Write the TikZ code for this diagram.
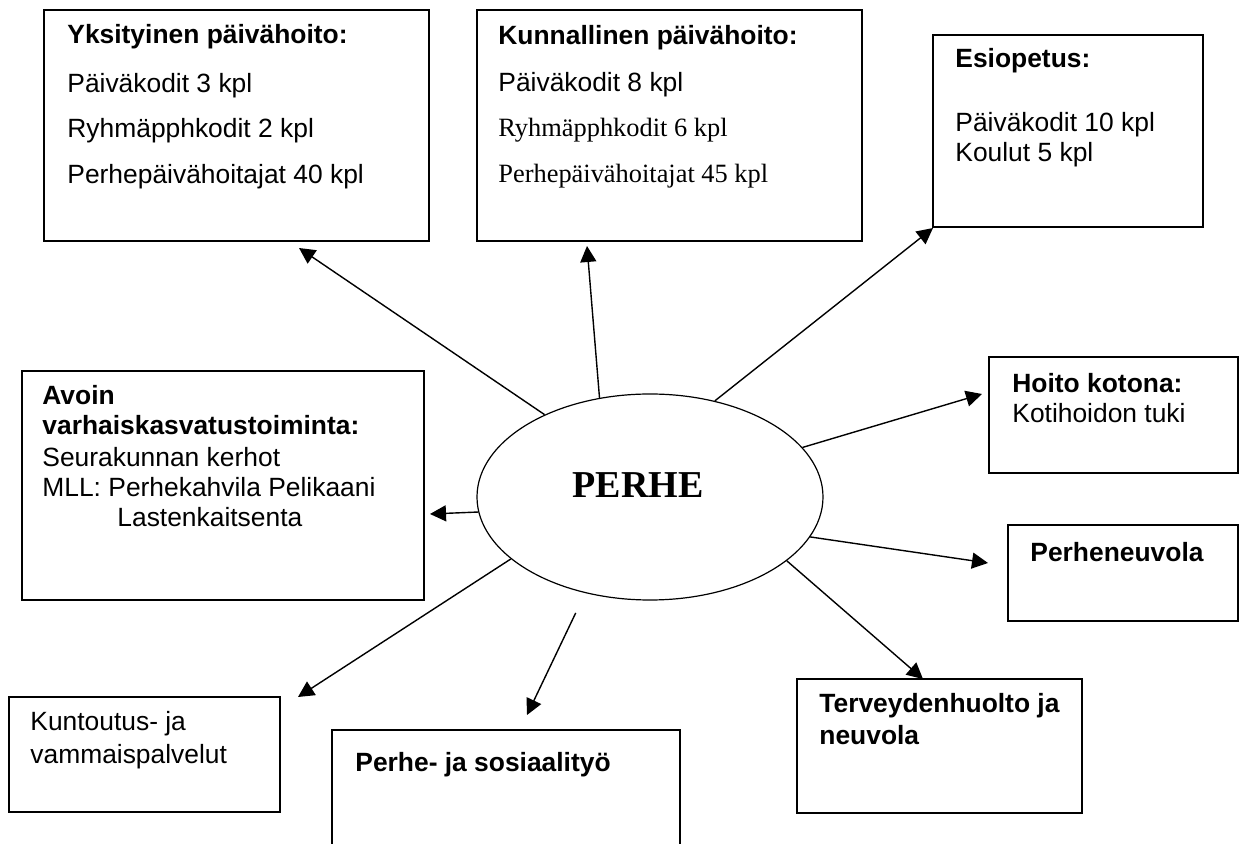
\documentclass[tikz,border=0pt]{standalone}
\usepackage{fontspec}
\setmainfont{Liberation Sans}
\newfontfamily\timesfont{Liberation Serif}
\usetikzlibrary{shapes.geometric,fit,arrows.meta}

\begin{document}
\begin{tikzpicture}[x=0.5pt, y=-0.5pt,
    box/.style={draw, line width=0.85pt, inner sep=0pt},
    txt/.style={anchor=base west, inner sep=0pt, font=\fontsize{13.2}{15}\selectfont},
    txtb/.style={txt, font=\fontsize{13.2}{15}\selectfont\bfseries},
    txts/.style={txt, font=\fontsize{13.2}{15}\selectfont\timesfont},
    arr/.style={-{Triangle[length=8pt,width=8pt]}, line width=0.7pt}]

        \clip (0,0) rectangle (1239,844);

        % --- centre ---
        \node[ellipse, draw, line width=0.6pt, minimum width=173pt, minimum height=103pt, inner sep=0pt] (perhe) at (650,497) {};
        \node[anchor=base, inner sep=0pt, font=\fontsize{19}{22}\selectfont\timesfont\bfseries] (perheT) at (638,498) {PERHE};

        % --- TOP ROW ---
        % Yksityinen
        \node[box, fit={(44,10) (429,241)}] (yks) {};
        \node[txtb] (yksH) at (67,44) {Yksityinen päivähoito:};
        \node[txt] (yks1) at (67,93) {Päiväkodit 3 kpl};
        \node[txt] (yks2) at (67,138) {Ryhmäpphkodit 2 kpl};
        \node[txt] (yks3) at (67,184) {Perhepäivähoitajat 40 kpl};

        % Kunnallinen
        \node[box, fit={(477,10) (862,241)}] (kun) {};
        \node[txtb] (kunH) at (498,45) {Kunnallinen päivähoito:};
        \node[txt] (kun1) at (498,92) {Päiväkodit 8 kpl};
        \node[txts] (kun2) at (498,137) {Ryhmäpphkodit 6 kpl};
        \node[txts] (kun3) at (498,183) {Perhepäivähoitajat 45 kpl};

        % Esiopetus
        \node[box, fit={(933,35) (1203,227)}] (esi) {};
        \node[txtb] (esiH) at (955,68) {Esiopetus:};
        \node[txt] (esi1) at (955,132) {Päiväkodit 10 kpl};
        \node[txt] (esi2) at (955,162) {Koulut 5 kpl};

        % --- MIDDLE ---
        % Avoin varhaiskasvatus
        \node[box, fit={(22,371) (424,600)}] (avo) {};
        \node[txtb] (avoH) at (42,405) {Avoin};
        \node[txtb] (avoH2) at (42,435) {varhaiskasvatustoiminta:};
        \node[txt] (avo1) at (42,467) {Seurakunnan kerhot};
        \node[txt] (avo2) at (42,497) {MLL: Perhekahvila Pelikaani};
        \node[txt] (avo3) at (117,527) {Lastenkaitsenta};

        % Hoito kotona
        \node[box, fit={(989,357) (1238,473)}] (koti) {};
        \node[txtb] (kotiH) at (1012,393) {Hoito kotona:};
        \node[txt] (koti1) at (1012,423) {Kotihoidon tuki};

        % Perheneuvola
        \node[box, fit={(1008,525) (1238,621)}] (neu) {};
        \node[txtb] (neuH) at (1030,562) {Perheneuvola};

        % --- BOTTOM ROW ---
        % Kuntoutus
        \node[box, fit={(9,697) (280,812)}] (kunt) {};
        \node[txt] (kunt1) at (30,731) {Kuntoutus- ja};
        \node[txt] (kunt2) at (30,764) {vammaispalvelut};

        % Perhe- ja sosiaalityo
        \node[box, fit={(332,730) (680,870)}] (sos) {};
        \node[txtb] (sosH) at (355,772) {Perhe- ja sosiaalityö};

        % Terveydenhuolto
        \node[box, fit={(797,679) (1082,813)}] (ter) {};
        \node[txtb] (terH) at (819,713) {Terveydenhuolto ja};
        \node[txtb] (terH2) at (819,745) {neuvola};

        % --- arrows ---
        \coordinate (yksA) at (299,248);
        \coordinate (kunA) at (587,246);
        \coordinate (esiA) at (933,228);
        \coordinate (kotiA) at (982,394);
        \coordinate (neuA) at (988,563);
        \coordinate (terA) at (923,679);
        \coordinate (sosA) at (527,715);
        \coordinate (kuntA) at (298,697);
        \coordinate (avoA) at (430,514);

        \draw[arr] (perhe.142.5) -- (yksA);
        \draw[arr] (perhe.117.5) -- (kunA);
        \draw[arr] (perhe.56.7) -- (esiA);
        \draw[arr] (perhe.18.3) -- (kotiA);
        \draw[arr] (perhe.-14.4) -- (neuA);
        \draw[arr] (perhe.-25.2) -- (terA);
        \draw[arr, shorten <=11pt] (perhe.236) -- (sosA);
        \draw[arr] (perhe.204.9) -- (kuntA);
        \draw[arr] (perhe.185.6) -- (avoA);

\end{tikzpicture}
\end{document}
